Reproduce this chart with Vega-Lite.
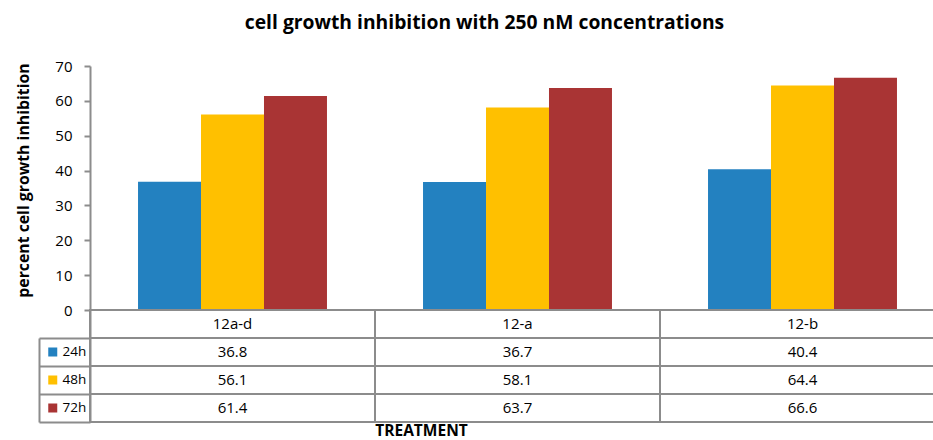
{
  "$schema": "https://vega.github.io/schema/vega-lite/v6.json",
  "width": 843,
  "height": 356,
  "autosize": {"type": "none"},
  "padding": {"left": 90, "top": 66, "right": 0, "bottom": 18},
  "background": "white",
  "config": {
    "view": {"stroke": null},
    "font": "Open Sans",
    "axis": {"labelFont": "Open Sans", "titleFont": "Open Sans"},
    "legend": {"labelFont": "Open Sans"}
  },
  "title": {
    "text": "cell growth inhibition with 250 nM concentrations",
    "font": "Open Sans",
    "fontSize": 19.3,
    "fontWeight": "bold",
    "color": "#000000",
    "anchor": "middle",
    "frame": "group",
    "dx": -27,
    "offset": 11,
    "baseline": "alphabetic"
  },
  "datasets": {
    "growth": [
      {"category": "12a-d", "series": "24h", "value": 36.8},
      {"category": "12a-d", "series": "48h", "value": 56.1},
      {"category": "12a-d", "series": "72h", "value": 61.4},
      {"category": "12-a", "series": "24h", "value": 36.7},
      {"category": "12-a", "series": "48h", "value": 58.1},
      {"category": "12-a", "series": "72h", "value": 63.7},
      {"category": "12-b", "series": "24h", "value": 40.4},
      {"category": "12-b", "series": "48h", "value": 64.4},
      {"category": "12-b", "series": "72h", "value": 66.6}
    ],
    "treatments": [
      {"category": "12a-d"},
      {"category": "12-a"},
      {"category": "12-b"}
    ]
  },
  "layer": [
    {
      "data": {"name": "growth"},
      "mark": {"type": "bar"},
      "encoding": {
        "x": {
          "field": "category",
          "type": "nominal",
          "sort": ["12a-d", "12-a", "12-b"],
          "scale": {"domain": ["12a-d", "12-a", "12-b"], "range": [0, 855], "paddingInner": 0.337, "paddingOuter": 0.1685},
          "axis": null
        },
        "xOffset": {
          "field": "series",
          "type": "nominal",
          "scale": {"domain": ["24h", "48h", "72h"], "paddingInner": 0, "paddingOuter": 0}
        },
        "y": {
          "field": "value",
          "type": "quantitative",
          "scale": {"domain": [-32.13, 70], "nice": false, "zero": false},
          "axis": {
            "orient": "left",
            "values": [0, 10, 20, 30, 40, 50, 60, 70],
            "grid": false,
            "domainColor": "#8c8c8c",
            "domainWidth": 2,
            "tickColor": "#8c8c8c",
            "tickWidth": 2,
            "tickSize": 6,
            "labelPadding": 12,
            "labelFontSize": 15,
            "labelColor": "#000000",
            "title": "percent cell growth inhibition",
            "titleFontSize": 15.8,
            "titleFontWeight": "bold",
            "titleColor": "#000000",
            "titleX": -62,
            "titleY": 114,
            "titleAngle": 270,
            "titleAlign": "center",
            "titleBaseline": "alphabetic"
          }
        },
        "color": {
          "field": "series",
          "type": "nominal",
          "scale": {"domain": ["24h", "48h", "72h"], "range": ["#2381C0", "#FFC000", "#A93434"]},
          "legend": {
            "orient": "none",
            "legendX": -44,
            "legendY": 279,
            "title": null,
            "symbolType": "square",
            "symbolSize": 81,
            "symbolStrokeWidth": 0,
            "labelFontSize": 13.5,
            "labelColor": "#000000",
            "labelOffset": 3,
            "padding": 0,
            "rowPadding": 14,
            "clipHeight": 14
          }
        }
      }
    },
    {
      "encoding": {
        "x": {
          "field": "category",
          "type": "nominal",
          "sort": ["12a-d", "12-a", "12-b"],
          "scale": {"domain": ["12a-d", "12-a", "12-b"], "range": [0, 855], "paddingInner": 0, "paddingOuter": 0},
          "axis": {
            "orient": "bottom",
            "labels": false,
            "ticks": false,
            "domain": false,
            "grid": false,
            "title": "TREATMENT",
            "titleFontSize": 15.5,
            "titleFontWeight": "bold",
            "titleColor": "#000000",
            "titleX": 331,
            "titleY": 13,
            "titleAlign": "center",
            "titleBaseline": "alphabetic"
          }
        }
      },
      "layer": [
        {
          "data": {"name": "treatments"},
          "mark": {"type": "rect", "fill": "transparent", "stroke": "#8c8c8c", "strokeWidth": 2},
          "encoding": {
            "y": {
              "datum": "hdr",
              "type": "nominal",
              "scale": {"domain": ["hdr", "24h", "48h", "72h"], "range": [244, 356], "paddingInner": 0, "paddingOuter": 0},
              "axis": {
                "orient": "left",
                "offset": 51,
                "bandPosition": 1,
                "values": ["hdr", "24h", "48h", "72h"],
                "labels": false,
                "domain": true,
                "domainColor": "#8c8c8c",
                "domainWidth": 2,
                "domainDash": [0, 28, 84, 0],
                "grid": false,
                "ticks": true,
                "tickSize": -51,
                "tickColor": "#8c8c8c",
                "tickWidth": 2,
                "title": null
              }
            }
          }
        },
        {
          "data": {"name": "treatments"},
          "mark": {"type": "text", "fontSize": 15, "color": "#000000", "font": "Open Sans"},
          "encoding": {
            "y": {"datum": "hdr", "type": "nominal"},
            "text": {"field": "category", "type": "nominal"}
          }
        },
        {
          "data": {"name": "growth"},
          "mark": {"type": "rect", "fill": "transparent", "stroke": "#8c8c8c", "strokeWidth": 2},
          "encoding": {
            "y": {"field": "series", "type": "nominal"}
          }
        },
        {
          "data": {"name": "growth"},
          "mark": {"type": "text", "fontSize": 15, "color": "#000000", "font": "Open Sans"},
          "encoding": {
            "y": {"field": "series", "type": "nominal"},
            "text": {"field": "value", "type": "quantitative", "format": ".1f"}
          }
        }
      ]
    }
  ],
  "resolve": {"scale": {"x": "independent", "y": "independent", "color": "independent"}}
}
